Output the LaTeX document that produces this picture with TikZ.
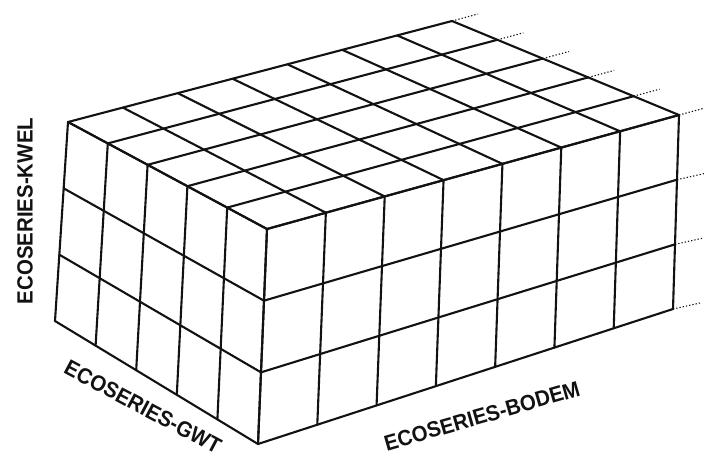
\documentclass[tikz,border=0pt]{standalone}
\usepackage{fontspec}
\setmainfont{Liberation Sans}
\usetikzlibrary{calc}
\definecolor{ink}{RGB}{18,18,18}

\begin{document}
\begin{tikzpicture}[x=1pt, y=-1pt,
      grid/.style={ink, line width=2.1pt, line join=round, line cap=round},
      trail/.style={ink, line width=1.1pt, dash pattern=on 1.3pt off 2pt},
      axis/.style={ink, font=\bfseries\fontsize{22}{22}\selectfont, xscale=0.93, inner sep=0pt}]
    \fill[white] (0,0) rectangle (704,459);
    \useasboundingbox (0,0) rectangle (704,459);
    % corners of the block
    \coordinate (lt) at (68,122);
    \coordinate (nt) at (267,229);
    \coordinate (rt) at (679,115);
    \coordinate (bt) at (452,21);
    \coordinate (lb) at (55,321);
    \coordinate (nb) at (258,444);
    \coordinate (rb) at (673,309);
    % top face
    \foreach \i in {0,...,5}
      \draw[grid] ($(lt)!\i/5!(nt)$) -- ($(bt)!\i/5!(rt)$);
    \foreach \j in {0,...,7}
      \draw[grid] ($(lt)!\j/7!(bt)$) -- ($(nt)!\j/7!(rt)$);
    % left face
    \foreach \i in {0,...,5}
      \draw[grid] ($(lt)!\i/5!(nt)$) -- ($(lb)!\i/5!(nb)$);
    \foreach \k in {0,...,3}
      \draw[grid] ($(lt)!\k/3!(lb)$) -- ($(nt)!\k/3!(nb)$);
    % front face
    \foreach \j in {0,...,7}
      \draw[grid] ($(nt)!\j/7!(rt)$) -- ($(nb)!\j/7!(rb)$);
    \foreach \k in {0,...,3}
      \draw[grid] ($(nt)!\k/3!(nb)$) -- ($(rt)!\k/3!(rb)$);
    % continuation
    \foreach \i in {0,...,5}
      \draw[trail] ($(bt)!\i/5!(rt)$) -- ++(26,-7);
    \foreach \k in {1,2,3}
      \draw[trail] ($(rt)!\k/3!(rb)$) -- ++(27,-6);
    \node[rotate=90, axis] (kwel) at (25,211) {ECOSERIES-KWEL};
    \node[rotate=-28, axis] (gwt) at (143,407) {ECOSERIES-GWT};
    \node[rotate=16, axis] (bodem) at (482,416) {ECOSERIES-BODEM};
  \end{tikzpicture}
\end{document}
